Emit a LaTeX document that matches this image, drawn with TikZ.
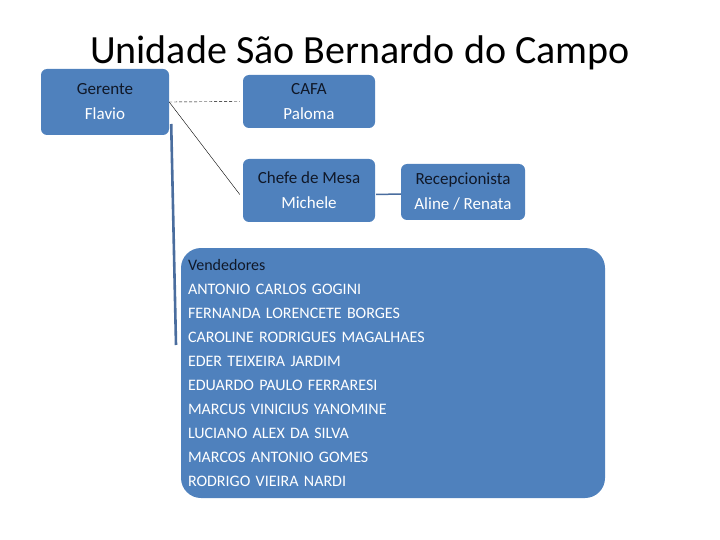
\documentclass[tikz,border=0pt]{standalone}
\usepackage{fontspec}
\setmainfont{Carlito}
\usetikzlibrary{positioning, calc}

\definecolor{caixaazul}{HTML}{4F81BD}
\definecolor{linhaazul}{HTML}{4A6D9E}
\definecolor{textoescuro}{HTML}{101828}

\begin{document}
\begin{tikzpicture}[
    x=1pt, y=-1pt,
    cargo/.style={rectangle, rounded corners=6pt, fill=caixaazul, align=center, inner sep=0pt, font=\fontsize{17}{25}\selectfont},
    titulo/.style={font=\fontsize{40}{44}\selectfont},
    tronco/.style={line width=2.6pt, linhaazul},
    ramo/.style={thin, black}
]
    \useasboundingbox (0,0) rectangle (720,540);

    % Título
    \node[titulo] (tit) at (360,53) {Unidade São Bernardo do Campo};

    % Caixas dos cargos
    \node[cargo, minimum width=128pt, minimum height=66pt] (gerente) at (105,102) {\textcolor{textoescuro}{Gerente}\\\textcolor{white}{Flavio}};
    \node[cargo, minimum width=132pt, minimum height=53pt] (cafa) at (309,101.5) {\textcolor{textoescuro}{CAFA}\\\textcolor{white}{Paloma}};
    \node[cargo, minimum width=132pt, minimum height=63pt] (chefe) at (309,190.5) {\textcolor{textoescuro}{Chefe de Mesa}\\\textcolor{white}{Michele}};
    \node[cargo, minimum width=124pt, minimum height=56pt] (recep) at (463,192) {\textcolor{textoescuro}{Recepcionista}\\\textcolor{white}{Aline / Renata}};

    % Vendedores
    \node[cargo, rounded corners=20pt, minimum width=424pt, minimum height=250pt, text width=410pt, align=left, font=\fontsize{16}{24}\selectfont, text=white] (vend) at (393,373) {\textcolor{textoescuro}{Vendedores}\\
    ANTONIO CARLOS GOGINI\\
    FERNANDA LORENCETE BORGES\\
    CAROLINE RODRIGUES MAGALHAES\\
    EDER TEIXEIRA JARDIM\\
    EDUARDO PAULO FERRARESI\\
    MARCUS VINICIUS YANOMINE\\
    LUCIANO ALEX DA SILVA\\
    MARCOS ANTONIO GOMES\\
    RODRIGO VIEIRA NARDI};

    % Ligações
    \draw[ramo, densely dashed] (gerente.east) -- ([xshift=-3pt]cafa.west);
    \draw[ramo] (gerente.east) -- ([xshift=-3pt, yshift=-4pt]chefe.west);
    \coordinate (fimtronco) at (176,345);
    \draw[tronco] ([xshift=2pt, yshift=-22pt]gerente.east) -- (fimtronco);
    \draw[linhaazul, line width=1.5pt] ([xshift=1pt, yshift=-4pt]chefe.east) -- ([yshift=-2pt]recep.west);

\end{tikzpicture}
\end{document}
